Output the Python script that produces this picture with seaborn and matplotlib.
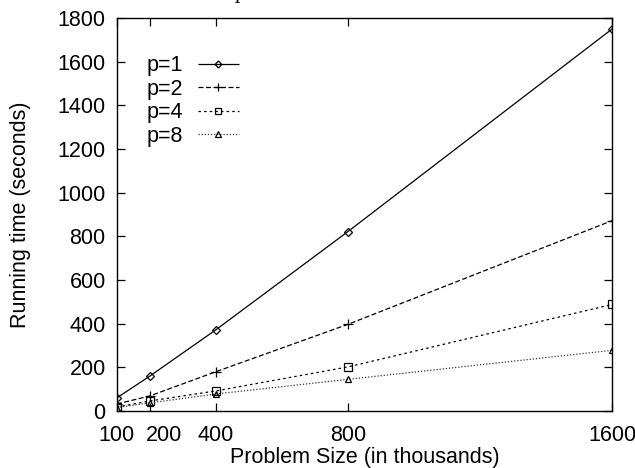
import numpy as np
import pandas as pd
from matplotlib import pyplot as plt
from matplotlib import transforms
import seaborn as sns

# problem sizes (thousands) and running times (seconds)
sizes = [100, 200, 400, 800, 1600]
p1 = [60, 160, 372, 822, 1750]
p2 = [32, 69, 180, 397, 872]
p4 = [18, 46, 92, 202, 488]
p8 = [16, 37, 78, 145, 278]
procs = ["p=1", "p=2", "p=4", "p=8"]
xticks = [100, 200, 400, 800, 1600]
yticks = list(range(0, 1801, 200))

rows = []
for name, vals in zip(procs, [p1, p2, p4, p8]):
    for s, v in zip(sizes, vals):
        rows.append({"size": s, "time": v, "p": name})
df = pd.DataFrame(rows)

sns.set_style("ticks")
plt.rcParams["font.family"] = ["Liberation Sans", "DejaVu Sans"]
plt.rcParams["text.color"] = "black"
plt.rcParams["axes.labelcolor"] = "black"
fs = 15.5

fig = plt.figure(figsize=(6.35, 4.68), dpi=100)
ax = fig.add_axes([0.184, 0.1218, 0.78, 0.8397])

sns.lineplot(
    data=df, x="size", y="time", hue="p", style="p",
    palette=["black", "black", "black", "#333333"],
    markers=["D", "P", "s", "^"],
    dashes=[(1, 0), (4, 2), (2, 2.5), (1, 1.5)],
    linewidth=0.9, markersize=5, ax=ax, legend=True,
)
# gnuplot style open markers
marks = ["D", "+", "s", "^"]
sizes_m = [4.5, 7, 6, 5]
for line, m, ms in zip(ax.lines[:4], marks, sizes_m):
    line.set_marker(m)
    line.set_markersize(ms)
    line.set_markerfacecolor("none")
    line.set_markeredgecolor("black")
    line.set_markeredgewidth(0.9)

ax.set_xlim(100, 1600)
ax.set_ylim(0, 1800)
ax.set_xticks(xticks)
ax.set_yticks(yticks)
ax.tick_params(direction="in", top=True, right=True, length=6, width=0.9,
               labelsize=fs, colors="black")
ax.tick_params(axis="x", pad=10)
ax.tick_params(axis="y", pad=8)
for sp in ax.spines.values():
    sp.set_visible(True)
    sp.set_linewidth(1.0)
    sp.set_color("black")

# nudge the "200" label right so it clears "100", as in the original
lbl = ax.get_xticklabels()[1]
lbl.set_transform(lbl.get_transform() + transforms.ScaledTranslation(14 / 100, 0, fig.dpi_scale_trans))

ax.set_xlabel("Problem Size (in thousands)", fontsize=fs, labelpad=0.5, color="black")
ax.set_ylabel("Running time (seconds)", fontsize=fs, labelpad=19, color="black")

handles, labels = ax.get_legend_handles_labels()
for h, m, ms in zip(handles, marks, sizes_m):
    h.set_marker(m)
    h.set_markersize(ms - 1)
    h.set_markerfacecolor("none")
    h.set_markeredgecolor("black")
    h.set_markeredgewidth(0.9)
leg = ax.legend(handles, labels, loc="upper left", bbox_to_anchor=(0.02, 0.955),
                frameon=False, markerfirst=False, handlelength=1.9,
                handletextpad=0.7, labelspacing=0.12, fontsize=fs, numpoints=1)
for t in leg.get_texts():
    t.set_color("black")

# cropped title remnant
fig.text(0.378, 1.004, "p", fontsize=fs, family="Liberation Serif",
         ha="center", va="baseline", color="black")

fig.savefig("out.png", dpi=100)
